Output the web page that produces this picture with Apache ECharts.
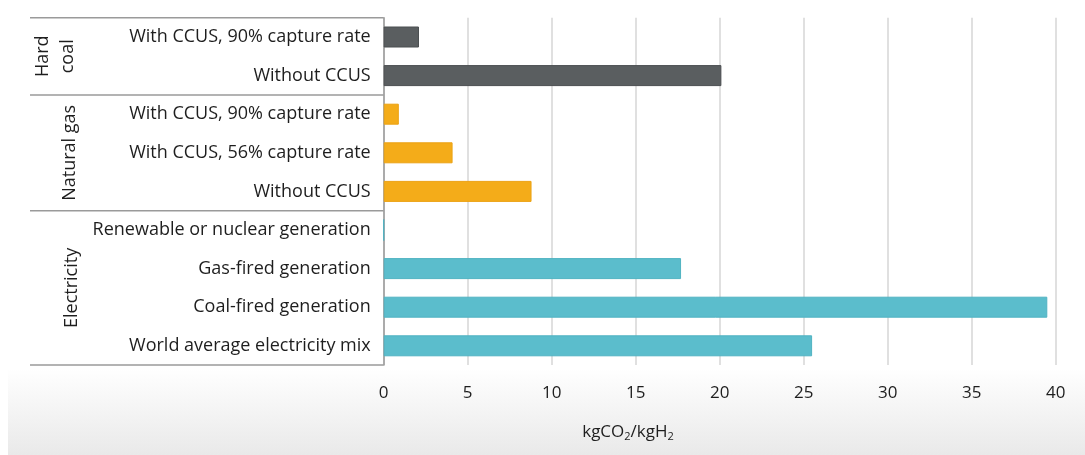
<!DOCTYPE html>
<html>
<head>
<meta charset="utf-8">
<script src="https://cdn.jsdelivr.net/npm/echarts@6/dist/echarts.min.js"></script>
<style>
html,body{margin:0;padding:0;background:#fff;}
#chart{width:1085px;height:455px;}
</style>
</head>
<body>
<div id="chart"></div>
<script>
// ---- data ----
const categories = [
  'With CCUS, 90% capture rate',
  'Without CCUS',
  'With CCUS, 90% capture rate',
  'With CCUS, 56% capture rate',
  'Without CCUS',
  'Renewable or nuclear generation',
  'Gas-fired generation',
  'Coal-fired generation',
  'World average electricity mix'
];
const values = [2.1, 20.1, 0.9, 4.1, 8.8, 0, 17.7, 39.5, 25.5];
const groupOf = ['Hard coal','Hard coal','Natural gas','Natural gas','Natural gas','Electricity','Electricity','Electricity','Electricity'];
const groupNames = ['Hard coal', 'Natural gas', 'Electricity'];
const groupLabelLines = [['Hard', 'coal'], ['Natural gas'], ['Electricity']];
const xTicks = [0, 5, 10, 15, 20, 25, 30, 35, 40];
const axisName = 'kgCO₂/kgH₂';

// ---- styles ----
const groupColors = {'Hard coal': '#5a5e60', 'Natural gas': '#f4ac19', 'Electricity': '#5bbdcc'};
const groupBorders = {'Hard coal': '#4a4e50', 'Natural gas': '#eba214', 'Electricity': '#50b3c2'};
const FONT = '"Open Sans", "Noto Sans", sans-serif';

const chart = echarts.init(document.getElementById('chart'), null, {renderer: 'canvas'});

const option = {
  animation: false,
  backgroundColor: {
    type: 'linear', x: 0, y: 0, x2: 0, y2: 1,
    colorStops: [
      {offset: 0, color: '#ffffff'},
      {offset: 0.81, color: '#ffffff'},
      {offset: 1, color: '#e9e9e9'}
    ]
  },
  textStyle: {fontFamily: FONT},
  grid: {left: 383.7, right: 29.3, top: 17.7, bottom: 89.9, containLabel: false},
  xAxis: {
    type: 'value',
    min: xTicks[0],
    max: xTicks[xTicks.length - 1],
    interval: xTicks[1] - xTicks[0],
    axisLine: {show: false},
    axisTick: {show: false},
    splitLine: {show: true, lineStyle: {color: '#d6d6d6', width: 1.5}},
    axisLabel: {color: '#1e1e1e', fontSize: 17, margin: 20, fontFamily: FONT}
  },
  yAxis: {
    type: 'category',
    inverse: true,
    data: categories,
    axisLine: {show: true, lineStyle: {color: '#9a9a9a', width: 1.5}},
    axisTick: {show: false},
    axisLabel: {color: '#1e1e1e', fontSize: 18, margin: 13, fontFamily: FONT}
  },
  series: [{
    type: 'bar',
    barWidth: 21,
    data: values.map((v, i) => ({
      value: v,
      itemStyle: {color: groupColors[groupOf[i]], borderColor: groupBorders[groupOf[i]], borderWidth: 1}
    }))
  }]
};
chart.setOption(option);

// ---- table frame and group labels, aligned to the category scale ----
function buildGraphics() {
  const grid = chart.getModel().getComponent('grid', 0).coordinateSystem.getRect();
  const n = categories.length;
  const band = grid.height / n;
  const leftX = 30;
  const rightX = grid.x;
  const elements = [];
  // white edge strip at the bottom-left (as in the screenshot)
  elements.push({type: 'rect', shape: {x: 0, y: grid.y + grid.height, width: 8, height: 455 - grid.y - grid.height},
    style: {fill: '#ffffff'}, silent: true, z: -1});
  const lineStyle = {stroke: '#9a9a9a', lineWidth: 1.5};
  const bounds = [0];
  for (let i = 1; i < n; i++) if (groupOf[i] !== groupOf[i - 1]) bounds.push(i);
  bounds.push(n);
  bounds.forEach(b => {
    const y = grid.y + b * band;
    elements.push({type: 'line', shape: {x1: leftX, y1: y, x2: rightX, y2: y}, style: lineStyle, silent: true});
  });
  const labelX = [[43, 68], [70], [72]];
  for (let g = 0; g < bounds.length - 1; g++) {
    const yc = grid.y + (bounds[g] + bounds[g + 1]) / 2 * band;
    groupLabelLines[g].forEach((line, k) => {
      elements.push({
        type: 'text',
        x: labelX[g][k], y: yc,
        rotation: Math.PI / 2,
        style: {
          text: line,
          fill: '#1e1e1e',
          font: '18px ' + FONT,
          align: 'center',
          verticalAlign: 'middle'
        },
        silent: true
      });
    });
  }
  elements.push({
    type: 'text',
    x: 628, y: grid.y + grid.height + 67,
    style: {
      text: '{a|kgCO}{s|2}{a|/kgH}{s|2}',
      align: 'center',
      verticalAlign: 'middle',
      rich: {
        a: {fontSize: 17, fill: '#1e1e1e', fontFamily: FONT},
        s: {fontSize: 11, fill: '#1e1e1e', fontFamily: FONT, padding: [9, 0, 0, 0]}
      }
    },
    silent: true
  });
  chart.setOption({graphic: {elements: elements}});
}
buildGraphics();
</script>
</body>
</html>
